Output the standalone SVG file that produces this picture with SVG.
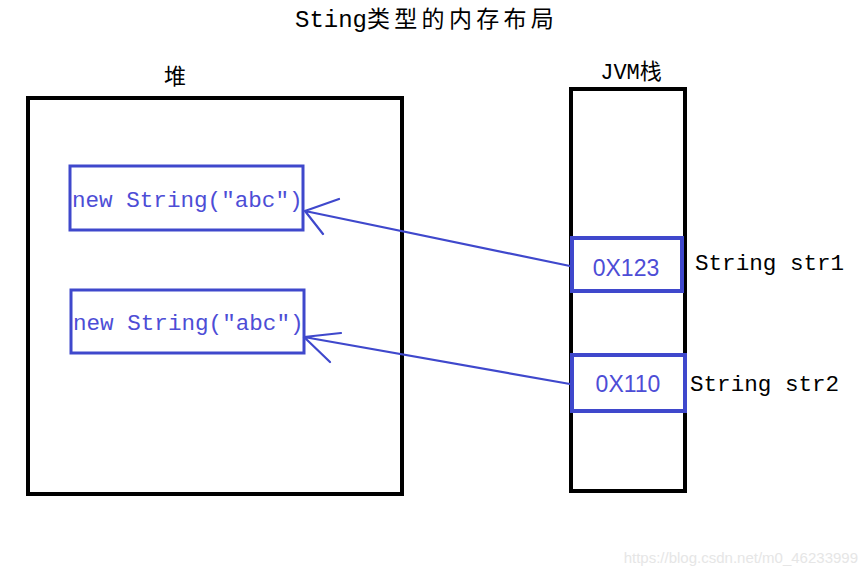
<svg xmlns="http://www.w3.org/2000/svg" width="865" height="576" viewBox="0 0 865 576">
<style>
.mono{font-family:"Liberation Mono","DejaVu Sans Mono",monospace;font-size:22.6px}
.blk{fill:#000}
.btxt{fill:#4d4dd6}
.heap{fill:none;stroke:#000;stroke-width:4}
.bbox{fill:none;stroke:#3f48cc;stroke-width:3}
.sbox{fill:none;stroke:#3f48cc;stroke-width:4}
.conn{fill:none;stroke:#3f48cc;stroke-width:2.2;stroke-linecap:round}
.cjk{font-family:"Noto Sans CJK SC","Noto Sans",sans-serif}
</style>
<rect width="865" height="576" fill="#fff"/>
<g id="title">
<text x="295" y="27" class="mono blk" style="font-size:24px">Sting</text>
<text x="367" y="27" class="cjk blk" font-size="23" letter-spacing="4.3">类型的内存布局</text>
</g>
<g id="heap">
<rect x="28" y="98" width="374" height="396" class="heap"/>
<text x="175" y="84" class="cjk blk" font-size="22" text-anchor="middle">堆</text>
</g>
<g id="obj1">
<rect x="70" y="166" width="233" height="64" class="bbox"/>
<text x="72" y="207" class="mono btxt">new String("abc")</text>
</g>
<g id="obj2">
<rect x="71" y="290" width="233" height="63" class="bbox"/>
<text x="73" y="330" class="mono btxt">new String("abc")</text>
</g>
<g id="stack">
<rect x="571" y="89" width="114" height="402" class="heap"/>
<text x="631" y="79" class="blk" font-family="Liberation Mono, monospace" font-size="22" text-anchor="middle">JVM<tspan class="cjk">栈</tspan></text>
</g>
<g id="ref1">
<rect x="572" y="238" width="110" height="53" class="sbox" style="fill:#fff"/>
<text x="626" y="276" class="btxt" font-family="Liberation Sans, Arial, sans-serif" font-size="23" text-anchor="middle">0X123</text>
<text x="695" y="270" class="mono blk">String str1</text>
</g>
<g id="ref2">
<rect x="572" y="355" width="113" height="56" class="sbox" style="fill:#fff"/>
<text x="628" y="392" class="btxt" font-family="Liberation Sans, Arial, sans-serif" font-size="23" text-anchor="middle">0X110</text>
<text x="690" y="391" class="mono blk">String str2</text>
</g>
<g id="connectors">
<path d="M570 266 L305 211 M305 211 L339 199 M305 211 L323 234" class="conn"/>
<path d="M570 384 L304 337 M304 337 L341 333 M304 337 L330 362" class="conn"/>
</g>
<text x="858" y="563" fill="#e6e6e6" font-family="Liberation Sans, Arial, sans-serif" font-size="15" text-anchor="end">https://blog.csdn.net/m0_46233999</text>
</svg>
